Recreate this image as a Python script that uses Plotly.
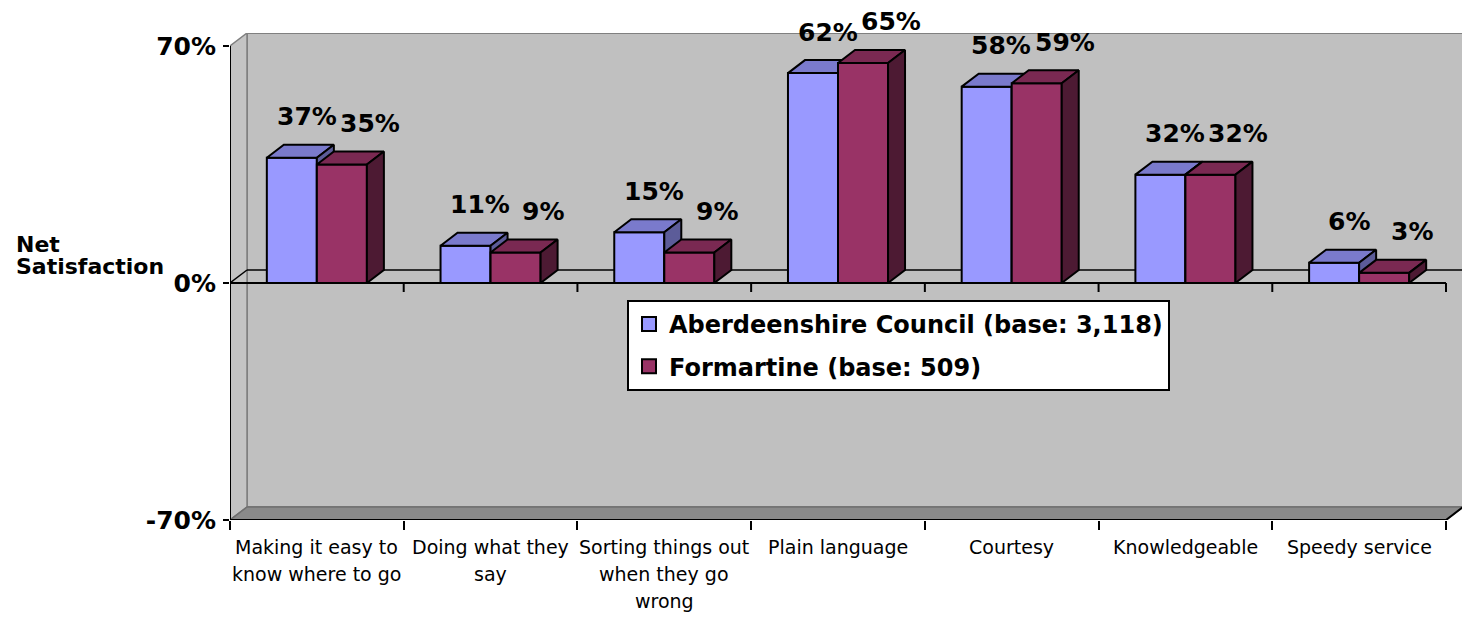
import plotly.graph_objects as go

# ---------------- data ----------------
categories = [
    "Making it easy to<br>know where to go",
    "Doing what they<br>say",
    "Sorting things out<br>when they go<br>wrong",
    "Plain language",
    "Courtesy",
    "Knowledgeable",
    "Speedy service",
]
aberdeenshire = [37, 11, 15, 62, 58, 32, 6]
formartine = [35, 9, 9, 65, 59, 32, 3]
series_names = ["Aberdeenshire Council (base: 3,118)", "Formartine (base: 509)"]
y_tick_values = [-70, 0, 70]
y_tick_labels = ["-70%", "0%", "70%"]
y_title_lines = ["Net", "Satisfaction"]

# ---------------- style / layout constants ----------------
PAGE_OFFSET = 8  # default body margin of the html page
W, H = 1470 - PAGE_OFFSET, 618 - PAGE_OFFSET
ML, MR, MT, MB = 230 - PAGE_OFFSET, 7, 33 - PAGE_OFFSET, 98
DEPTH_PX_X, DEPTH_PX_Y = 17, 13
Y_MIN, Y_MAX = -70, 70
BAR_W = 0.288
FONT = "DejaVu Sans"

front_colors = ["#9999FF", "#993366"]
top_colors = ["#7A7ACC", "#7A2952"]
side_colors = ["#5C5C99", "#4D1A33"]
label_offsets = [0.085, 0.16]  # label x offset (category units) from front-face centre

n = len(categories)
plot_w = W - ML - MR
plot_h = H - MT - MB
px_per_x = (plot_w - DEPTH_PX_X) / n
px_per_y = (plot_h - DEPTH_PX_Y) / (Y_MAX - Y_MIN)
DX = DEPTH_PX_X / px_per_x
DY = DEPTH_PX_Y / px_per_y
X_LO, X_HI = -0.5, n - 0.5

fig = go.Figure()

# ---------------- bars (3D faces) ----------------
series = [aberdeenshire, formartine]
for s, vals in enumerate(series):
    fx, fy, tx, ty, sx, sy = [], [], [], [], [], []
    for i, v in enumerate(vals):
        x0 = i - BAR_W + s * BAR_W
        x1 = x0 + BAR_W
        fx += [x0, x1, x1, x0, x0, None]
        fy += [0, 0, v, v, 0, None]
        tx += [x0, x1, x1 + DX, x0 + DX, x0, None]
        ty += [v, v, v + DY, v + DY, v, None]
        sx += [x1, x1 + DX, x1 + DX, x1, x1, None]
        sy += [0, DY, v + DY, v, 0, None]
    for xs, ys, col in [(fx, fy, front_colors[s]), (tx, ty, top_colors[s]), (sx, sy, side_colors[s])]:
        fig.add_trace(go.Scatter(
            x=xs, y=ys, mode="lines", fill="toself", fillcolor=col,
            line=dict(color="black", width=2), showlegend=False, hoverinfo="skip",
        ))

# legend entries
for s, name in enumerate(series_names):
    fig.add_trace(go.Scatter(
        x=[None], y=[None], mode="markers", name=name, legendgroup=f"g{s}",
        marker=dict(symbol="square", size=14, color=front_colors[s],
                    line=dict(color="black", width=2)),
    ))

# ---------------- walls, floor, zero plane ----------------
shapes = []
wall_line = dict(color="#808080", width=2)
shapes.append(dict(type="rect", xref="x", yref="y", x0=X_LO + DX, x1=X_HI + DX,
                   y0=Y_MIN + DY, y1=Y_MAX + DY, fillcolor="#C0C0C0", line=wall_line, layer="below"))
shapes.append(dict(type="path", xref="x", yref="y",
                   path=f"M {X_LO},{Y_MIN} L {X_LO},{Y_MAX} L {X_LO+DX},{Y_MAX+DY} L {X_LO+DX},{Y_MIN+DY} Z",
                   fillcolor="#C4C4C4", line=dict(color="#808080", width=1.5), layer="below"))
shapes.append(dict(type="path", xref="x", yref="y",
                   path=f"M {X_LO},{Y_MIN} L {X_HI},{Y_MIN} L {X_HI+DX},{Y_MIN+DY} L {X_LO+DX},{Y_MIN+DY} Z",
                   fillcolor="#8A8A8A", line=dict(color="#707070", width=1.5), layer="below"))
# zero plane
shapes.append(dict(type="line", xref="x", yref="y", x0=X_LO + DX, x1=X_HI + DX, y0=DY, y1=DY,
                   line=dict(color="black", width=1.5), layer="below"))
shapes.append(dict(type="line", xref="x", yref="y", x0=X_LO, x1=X_LO + DX, y0=0, y1=DY,
                   line=dict(color="black", width=1.5), layer="below"))
shapes.append(dict(type="line", xref="x", yref="y", x0=X_LO, x1=X_HI, y0=0, y1=0,
                   line=dict(color="black", width=2), layer="below"))
for b in range(n + 1):
    shapes.append(dict(type="line", xref="x", yref="y", ysizemode="pixel", yanchor=0,
                       x0=X_LO + b, x1=X_LO + b, y0=0, y1=-9,
                       line=dict(color="black", width=2), layer="below"))
# front axes
shapes.append(dict(type="line", xref="x", yref="y", x0=X_LO, x1=X_LO, y0=Y_MIN, y1=Y_MAX,
                   line=dict(color="black", width=2)))
shapes.append(dict(type="line", xref="x", yref="y", x0=X_LO, x1=X_HI, y0=Y_MIN, y1=Y_MIN,
                   line=dict(color="black", width=2)))
shapes.append(dict(type="line", xref="x", yref="y", x0=X_HI, x1=X_HI + DX, y0=Y_MIN, y1=Y_MIN + DY,
                   line=dict(color="black", width=2)))

# ---------------- annotations ----------------
annotations = []
for s, vals in enumerate(series):
    for i, v in enumerate(vals):
        xc = i - BAR_W / 2 + s * BAR_W + label_offsets[s]
        annotations.append(dict(x=xc, y=v, xref="x", yref="y", text=f"{v}%", showarrow=False,
                                yshift=41, yanchor="middle",
                                font=dict(family=FONT, size=25, color="black", weight="bold")))
for i, cat in enumerate(categories):
    for k, line in enumerate(cat.split("<br>")):
        annotations.append(dict(x=i, y=0, xref="x", yref="paper", text=line, showarrow=False,
                                yanchor="middle", yshift=-(27 + 27 * k),
                                font=dict(family=FONT, size=19, color="black")))
for k, line in enumerate(y_title_lines):
    annotations.append(dict(x=-(ML - (14 - PAGE_OFFSET)) / plot_w,
                            y=(H - MB - (244 - PAGE_OFFSET + 22 * k)) / plot_h,
                            xref="paper", yref="paper", text=line, showarrow=False,
                            xanchor="left", yanchor="middle",
                            font=dict(family=FONT, size=22, color="black", weight="bold")))

fig.update_layout(
    width=W, height=H,
    margin=dict(l=ML, r=MR, t=MT, b=MB, autoexpand=False),
    paper_bgcolor="white", plot_bgcolor="white",
    shapes=shapes, annotations=annotations,
    showlegend=True,
    legend=dict(
        x=(627 - PAGE_OFFSET - ML) / plot_w, y=(H - MB - (300 - PAGE_OFFSET)) / plot_h,
        xanchor="left", yanchor="top",
        bgcolor="white", bordercolor="black", borderwidth=2,
        font=dict(family=FONT, size=24, color="black", weight="bold"),
        traceorder="grouped", tracegroupgap=8,
    ),
    xaxis=dict(range=[X_LO, X_HI + DX], showgrid=False, zeroline=False, showline=False,
               tickmode="array", tickvals=[X_LO + b for b in range(n + 1)],
               ticktext=["" for _ in range(n + 1)],
               ticks="outside", ticklen=9, tickwidth=2, tickcolor="black", fixedrange=True),
    yaxis=dict(range=[Y_MIN, Y_MAX + DY], showgrid=False, zeroline=False, showline=False,
               tickmode="array", tickvals=y_tick_values, ticktext=y_tick_labels,
               ticks="outside", ticklen=6, tickwidth=2, tickcolor="black",
               tickfont=dict(family=FONT, size=25, color="black", weight="bold"),
               ticklabelstandoff=2, fixedrange=True),
)

fig.write_html("out.html")
